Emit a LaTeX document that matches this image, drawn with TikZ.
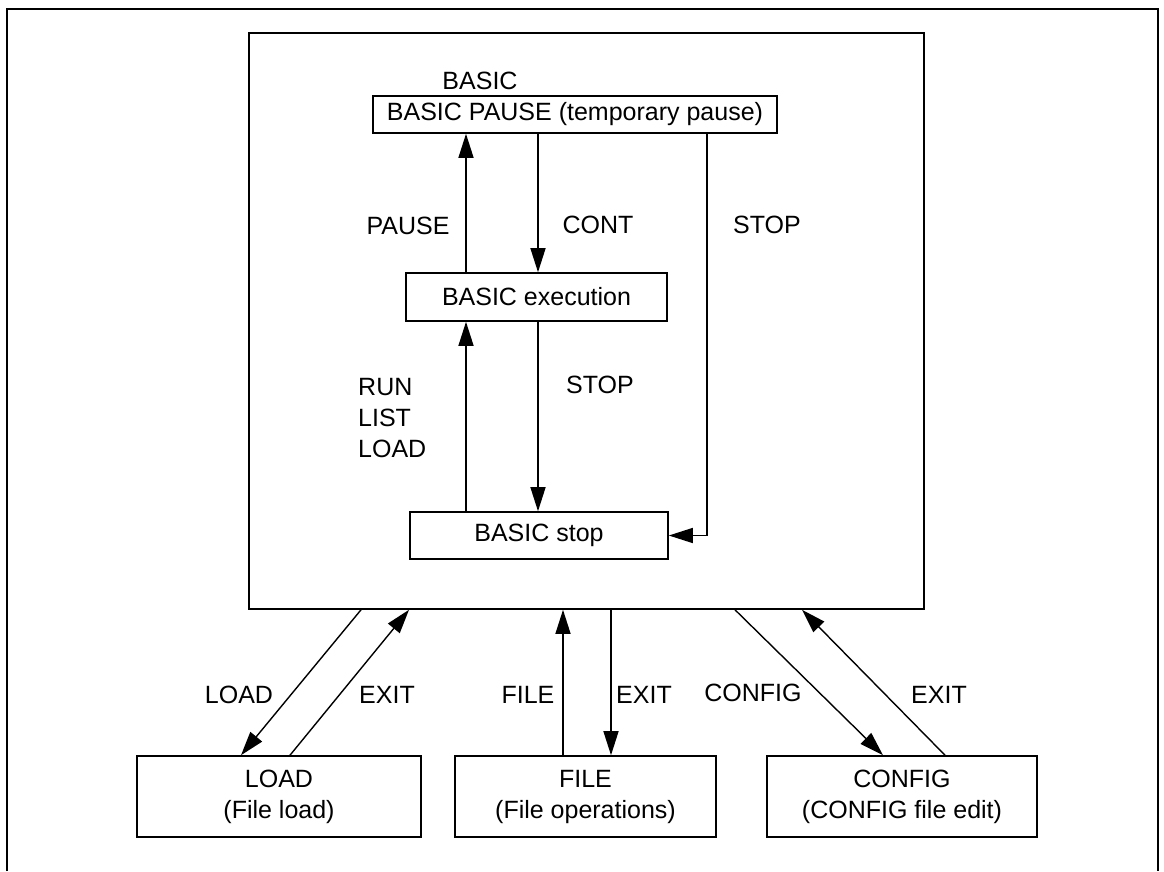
\documentclass[tikz,border=0pt]{standalone}
\usepackage{fontspec}
\setmainfont{Liberation Sans}
\usetikzlibrary{arrows.meta}
\begin{document}
\begin{tikzpicture}[x=1pt,y=-1pt,
  txt/.style={font=\fontsize{25}{31}\selectfont},
  box/.style={draw, line width=1.6pt, inner sep=0pt, align=center, txt},
  lbl/.style={inner sep=0pt, txt},
  arr/.style={-{Triangle[length=24pt,width=15pt]}, line width=1.4pt}]
\useasboundingbox (0,0) rectangle (1164,871);

% frame open at the bottom
\draw[line width=1.8pt] (7,871) -- (7,9) -- (1158,9) -- (1158,871);

% BASIC mode and its states
\node[box, minimum width=675, minimum height=576] (basic) at (586.5,321) {};
\node[lbl] (basiclbl) at (480,81) {BASIC};
\node[box, minimum width=404, minimum height=37] (pause) at (575,114.5) {BASIC PAUSE (temporary pause)};
\node[box, minimum width=261, minimum height=48] (exec) at (536.5,297) {BASIC execution};
\node[box, minimum width=258, minimum height=47] (stop) at (539,535.5) {BASIC stop};

% sub-modes
\node[box, minimum width=284, minimum height=81] (load) at (279,796.5) {LOAD\\(File load)};
\node[box, minimum width=261, minimum height=81] (file) at (585.5,796.5) {FILE\\(File operations)};
\node[box, minimum width=270, minimum height=81] (config) at (902,796.5) {CONFIG\\(CONFIG file edit)};

% x positions of the vertical connectors
\coordinate (xl) at (466,0);
\coordinate (xr) at (538,0);
\coordinate (xs) at (707,0);

% transitions inside BASIC
\draw[arr] (exec.north -| xl) -- (pause.south -| xl);
\draw[arr] (pause.south -| xr) -- (exec.north -| xr);
\draw[arr] (stop.north -| xl) -- (exec.south -| xl);
\draw[arr] (exec.south -| xr) -- (stop.north -| xr);
\draw[arr] (pause.south -| xs) |- (stop.east);

\node[lbl] (lpause) at (408,226) {PAUSE};
\node[lbl] (lcont) at (598,225) {CONT};
\node[lbl] (lstop1) at (767,225) {STOP};
\node[lbl, align=left, anchor=west] (lrun) at (358,418) {RUN\\LIST\\LOAD};
\node[lbl] (lstop2) at (600,385) {STOP};

% transitions to and from the sub-modes
\coordinate (b1) at (361,0); \coordinate (l1) at (241,0);
\coordinate (l2) at (290,0); \coordinate (b2) at (409,0);
\coordinate (f1) at (563,0); \coordinate (f2) at (611,0);
\coordinate (b3) at (735,0); \coordinate (c1) at (883,0);
\coordinate (c2) at (945,0); \coordinate (b4) at (802,0);
\draw[arr] (basic.south -| b1) -- (load.north -| l1);
\draw[arr] (load.north -| l2) -- (basic.south -| b2);
\draw[arr] (file.north -| f1) -- (basic.south -| f1);
\draw[arr] (basic.south -| f2) -- (file.north -| f2);
\draw[arr] (basic.south -| b3) -- (config.north -| c1);
\draw[arr] (config.north -| c2) -- (basic.south -| b4);

\node[lbl] (lload) at (239,695) {LOAD};
\node[lbl] (lexit1) at (387,695) {EXIT};
\node[lbl] (lfile) at (528,695) {FILE};
\node[lbl] (lexit2) at (644,695) {EXIT};
\node[lbl] (lconfig) at (753,693) {CONFIG};
\node[lbl] (lexit3) at (939,695) {EXIT};
\end{tikzpicture}
\end{document}
